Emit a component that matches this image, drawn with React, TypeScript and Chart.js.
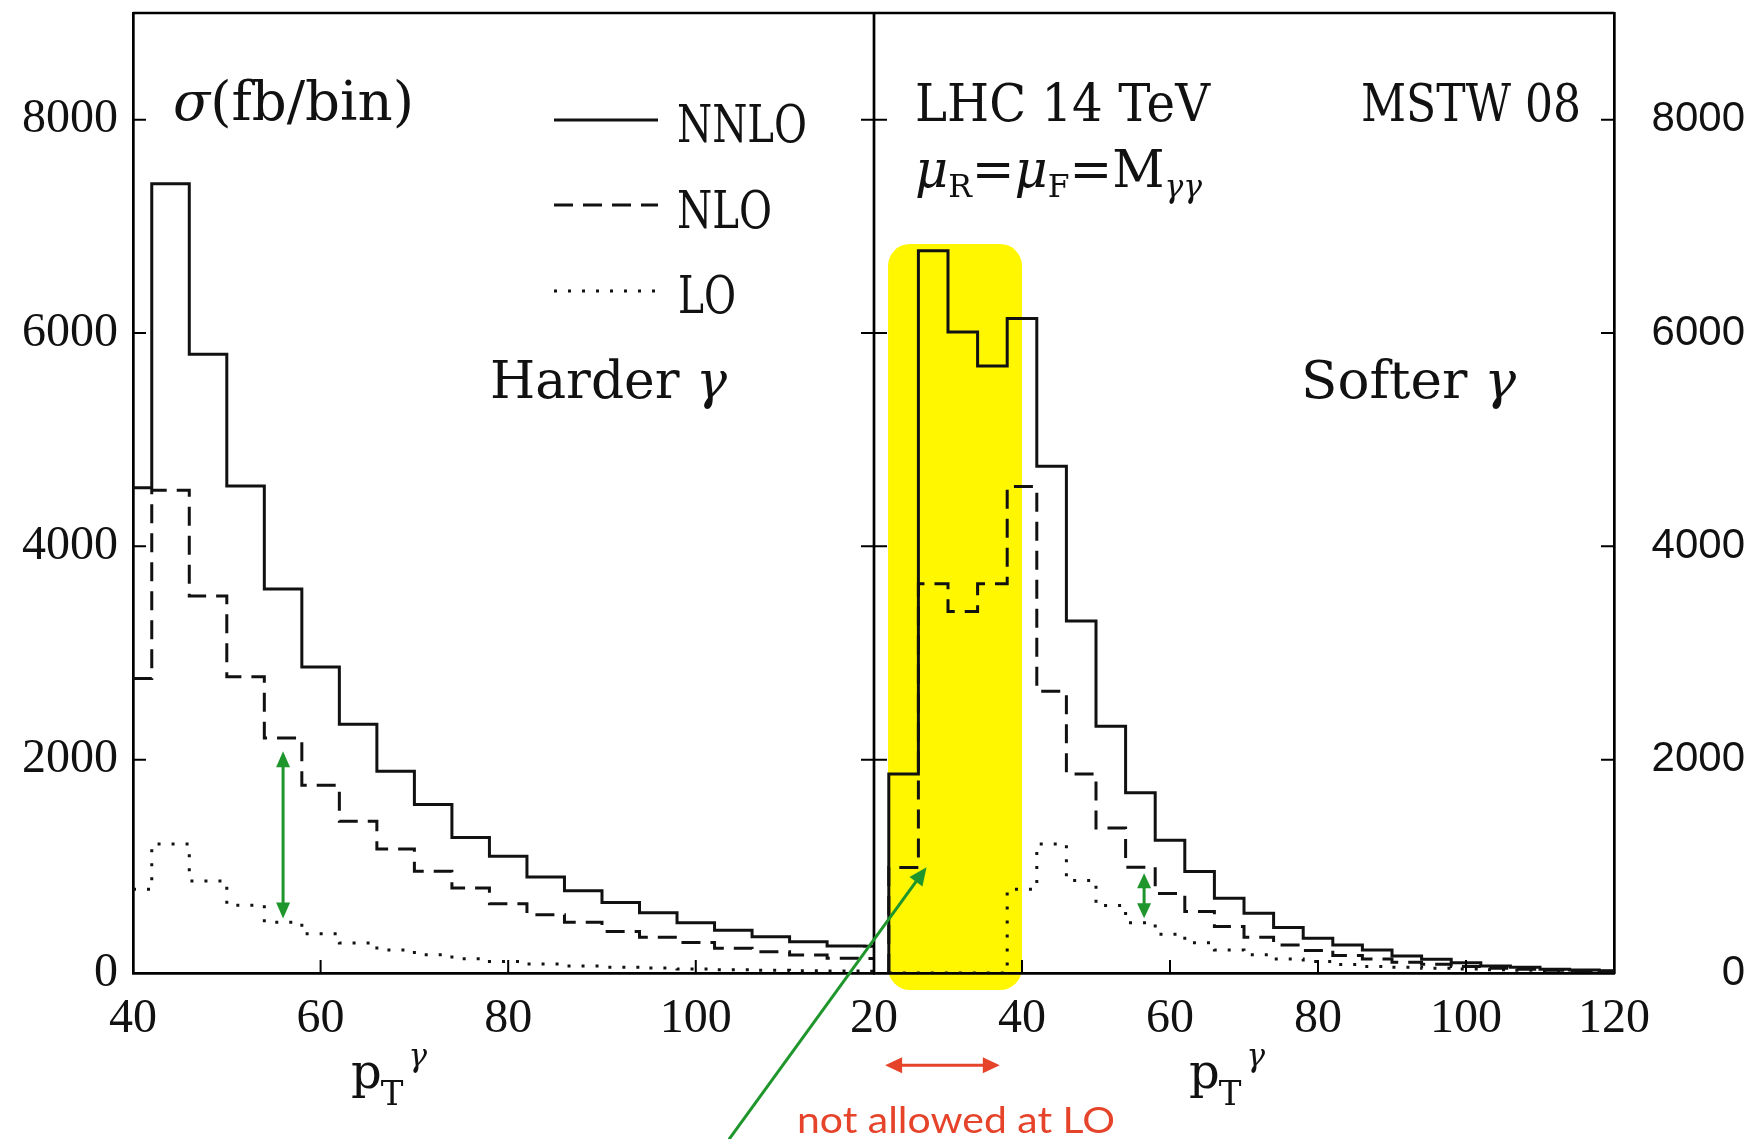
import React, { useEffect, useRef } from 'react';
import { Chart, registerables } from 'chart.js';

Chart.register(...registerables);

const WIDTH = 1754;
const HEIGHT = 1139;

// Bin edges in GeV (4 GeV bins). The harder photon starts in the 38-42 bin, cut at 40.
const harderEdges = [38, 42, 46, 50, 54, 58, 62, 66, 70, 74, 78, 82, 86, 90, 94, 98, 102, 106, 110, 114, 118, 122];
const softerEdges = [22, 26, 30, 34, 38, 42, 46, 50, 54, 58, 62, 66, 70, 74, 78, 82, 86, 90, 94, 98, 102, 106, 110, 114, 118, 122];

// sigma (fb/bin) for the harder photon
const harderNNLO = [4550, 7400, 5800, 4565, 3600, 2868, 2332, 1891, 1580, 1270, 1094, 900, 770, 660, 566, 472, 400, 340, 294, 254, 250];
const harderNLO = [2760, 4525, 3535, 2778, 2203, 1759, 1422, 1163, 953, 797, 650, 547, 475, 390, 335, 285, 232, 200, 169, 138, 135];
const harderLO = [784, 1210, 862, 636, 476, 367, 282, 215, 171, 133, 108, 85, 66, 55, 46, 38, 31, 25, 22, 19, 16];

// sigma (fb/bin) for the softer photon
const softerNNLO = [1866, 6770, 6010, 5690, 6135, 4750, 3300, 2313, 1690, 1245, 952, 701, 561, 426, 326, 263, 216, 160, 128, 97, 66, 53, 34, 28, 22];
const softerNLO = [989, 3650, 3390, 3650, 4560, 2641, 1866, 1359, 992, 745, 576, 435, 335, 263, 210, 163, 131, 100, 81, 60, 44, 34, 25, 19, 16];
const softerLO = [0, 0, 0, 0, 786, 1210, 867, 632, 472, 364, 284, 216, 170, 132, 108, 80, 62, 54, 45, 38, 31, 25, 22, 19, 16];

// Axis ranges and tick spacing
const harderRange = { min: 40, max: 119 };
const softerRange = { min: 20, max: 120 };
const sigmaRange = { min: 0, max: 9000 };
const ptMajor = 20;
const ptMinor = 4;
const sigmaMajor = 2000;
const sigmaMinor = 400;

// Annotations, in data units of the panel they sit in
const harderJump = { x: 56, from: 2080, to: 510 };
const softerJump = { x: 56.5, from: 936, to: 514 };
const pointer = { from: { x: 0.4, y: -1560 }, to: { x: 27.1, y: 992 } };
const forbidden = { from: 21.5, to: 37, y: -864 };
const highlight = { x0: 21.9, x1: 40, y0: -160, y1: 6835 };

const SERIF = '"DejaVu Serif", serif';
const TICK_SERIF = '"Liberation Serif", serif';
const SANS = '"Liberation Sans", Arial, sans-serif';
const HUMANIST = 'Lato, "Open Sans", sans-serif';
const INK = '#111';
const GREEN = '#1f962c';
const RED = '#e6432b';
const YELLOW = '#fff700';

const styles: Record<string, number[]> = {
  NNLO: [],
  NLO: [19, 10],
  LO: [3, 11],
};

type Pt = { x: number; y: number };

function histogram(edges: number[], values: number[], range: { min: number; max: number }, fromZero: boolean): Pt[] {
  const pts: Pt[] = [];
  let last = 0;
  if (fromZero) pts.push({ x: Math.max(edges[0], range.min), y: 0 });
  for (let i = 0; i < values.length; i++) {
    const a = edges[i];
    const b = edges[i + 1];
    if (b <= range.min || a >= range.max) continue;
    pts.push({ x: Math.max(a, range.min), y: values[i] });
    last = i;
  }
  pts.push({ x: Math.min(edges[last + 1], range.max), y: values[last] });
  return pts;
}

function series(label: string, values: number[], edges: number[], range: { min: number; max: number }, xAxisID: string, fromZero: boolean) {
  return {
    label,
    data: histogram(edges, values, range, fromZero),
    xAxisID,
    yAxisID: 'y',
    borderColor: INK,
    borderWidth: 3,
    borderDash: styles[label],
    borderCapStyle: 'butt',
    borderJoinStyle: 'miter',
    stepped: 'before',
    pointRadius: 0,
    fill: false,
    tension: 0,
  };
}

type Run = { t: string; size: number; dy?: number; dx?: number; italic?: boolean; family?: string };

function drawRuns(ctx: CanvasRenderingContext2D, runs: Run[], x: number, baseline: number, width?: number, color = INK) {
  const fontOf = (r: Run) => `${r.italic ? 'italic ' : ''}${r.size}px ${r.family ?? SERIF}`;
  const widths = runs.map((r) => {
    ctx.font = fontOf(r);
    return ctx.measureText(r.t).width;
  });
  const total = widths.reduce((s, w, i) => s + w + (runs[i].dx ?? 0), 0);
  const sx = width ? width / total : 1;
  ctx.save();
  ctx.fillStyle = color;
  ctx.textAlign = 'left';
  ctx.textBaseline = 'alphabetic';
  ctx.translate(x, baseline);
  ctx.scale(sx, 1);
  let cx = 0;
  runs.forEach((r, i) => {
    cx += r.dx ?? 0;
    ctx.font = fontOf(r);
    ctx.fillText(r.t, cx, r.dy ?? 0);
    cx += widths[i];
  });
  ctx.restore();
}

function head(ctx: CanvasRenderingContext2D, tip: Pt, from: Pt, len: number, half: number): Pt {
  const a = Math.atan2(tip.y - from.y, tip.x - from.x);
  const c = Math.cos(a);
  const s = Math.sin(a);
  const bx = tip.x - len * c;
  const by = tip.y - len * s;
  ctx.beginPath();
  ctx.moveTo(tip.x, tip.y);
  ctx.lineTo(bx - half * s, by + half * c);
  ctx.lineTo(bx + half * s, by - half * c);
  ctx.closePath();
  ctx.fill();
  return { x: bx + c, y: by + s };
}

function arrow(ctx: CanvasRenderingContext2D, p0: Pt, p1: Pt, color: string, width: number, len: number, half: number, both: boolean) {
  ctx.save();
  ctx.strokeStyle = color;
  ctx.fillStyle = color;
  ctx.lineWidth = width;
  const e1 = head(ctx, p1, p0, len, half);
  const e0 = both ? head(ctx, p0, p1, len, half) : p0;
  ctx.beginPath();
  ctx.moveTo(e0.x, e0.y);
  ctx.lineTo(e1.x, e1.y);
  ctx.stroke();
  ctx.restore();
}

const decorations = {
  id: 'decorations',
  beforeDraw(chart: any) {
    const { ctx, scales } = chart;
    const xR = scales.xR;
    const y = scales.y;
    const l = xR.getPixelForValue(highlight.x0);
    const r = xR.getPixelForValue(highlight.x1);
    const t = y.getPixelForValue(highlight.y1);
    const b = y.getPixelForValue(highlight.y0);
    const rad = 22;
    ctx.save();
    ctx.fillStyle = YELLOW;
    ctx.beginPath();
    ctx.moveTo(l + rad, t);
    ctx.arcTo(r, t, r, b, rad);
    ctx.arcTo(r, b, l, b, rad);
    ctx.arcTo(l, b, l, t, rad);
    ctx.arcTo(l, t, r, t, rad);
    ctx.closePath();
    ctx.fill();
    ctx.restore();
  },
  afterDraw(chart: any) {
    const { ctx, chartArea: ca, scales } = chart;
    const xL = scales.xL;
    const xR = scales.xR;
    const y = scales.y;
    const divider = xR.left;

    // top frame and the divider between the two panels
    ctx.save();
    ctx.strokeStyle = '#000';
    ctx.lineWidth = 2.7;
    ctx.beginPath();
    ctx.moveTo(ca.left, ca.top);
    ctx.lineTo(ca.right, ca.top);
    ctx.moveTo(divider, ca.top);
    ctx.lineTo(divider, ca.bottom);
    ctx.stroke();

    // inward tick marks
    ctx.lineWidth = 2;
    ctx.beginPath();
    for (const sc of [xL, xR]) {
      for (const tk of sc.ticks) {
        const v = tk.value;
        if (v <= sc.min || v >= sc.max || v % ptMinor !== 0) continue;
        const len = v % ptMajor === 0 ? 13 : 6;
        const px = sc.getPixelForValue(v);
        ctx.moveTo(px, ca.bottom);
        ctx.lineTo(px, ca.bottom - len);
      }
    }
    for (const tk of y.ticks) {
      const v = tk.value;
      if (v <= y.min || v >= y.max || v % sigmaMinor !== 0) continue;
      const len = v % sigmaMajor === 0 ? 13 : 6;
      const py = y.getPixelForValue(v);
      ctx.moveTo(ca.left, py);
      ctx.lineTo(ca.left + len, py);
      ctx.moveTo(ca.right, py);
      ctx.lineTo(ca.right - len, py);
      ctx.moveTo(divider - len, py);
      ctx.lineTo(divider + len, py);
    }
    ctx.stroke();
    ctx.restore();

    // legend samples, styled like the datasets
    const legendY = [120, 205, 291];
    chart.data.datasets.slice(0, 3).forEach((ds: any, i: number) => {
      ctx.save();
      ctx.strokeStyle = ds.borderColor;
      ctx.lineWidth = ds.borderWidth;
      ctx.lineCap = 'butt';
      ctx.setLineDash(ds.borderDash);
      ctx.beginPath();
      ctx.moveTo(554, legendY[i]);
      ctx.lineTo(658, legendY[i]);
      ctx.stroke();
      ctx.restore();
    });
    drawRuns(ctx, [{ t: 'NNLO', size: 52 }], 677, 142, 130);
    drawRuns(ctx, [{ t: 'NLO', size: 52 }], 677, 228, 95);
    drawRuns(ctx, [{ t: 'LO', size: 52 }], 678, 313, 58);

    // panel texts
    drawRuns(ctx, [{ t: 'σ', size: 54, italic: true }, { t: '(fb/bin)', size: 54 }], 173, 120, 241);
    drawRuns(ctx, [{ t: 'Harder ', size: 52 }, { t: 'γ', size: 52, italic: true }], 490, 398, 237);
    drawRuns(ctx, [{ t: 'LHC 14 TeV', size: 52 }], 915, 121, 295);
    drawRuns(ctx, [{ t: 'MSTW 08', size: 52 }], 1361, 121, 220);
    drawRuns(
      ctx,
      [
        { t: 'μ', size: 52, italic: true },
        { t: 'R', size: 32, dy: 10 },
        { t: '=', size: 52 },
        { t: 'μ', size: 52, italic: true },
        { t: 'F', size: 32, dy: 10 },
        { t: '=', size: 52 },
        { t: 'M', size: 52 },
        { t: 'γγ', size: 32, dy: 10, italic: true },
      ],
      915,
      187,
      287,
    );
    drawRuns(ctx, [{ t: 'Softer ', size: 52 }, { t: 'γ', size: 52, italic: true }], 1301, 398, 215);

    // axis titles p_T^gamma
    const ptTitle: Run[] = [
      { t: 'p', size: 48 },
      { t: 'T', size: 34, dy: 17, dx: -1 },
      { t: 'γ', size: 31, dy: -22, dx: 5, italic: true },
    ];
    drawRuns(ctx, ptTitle, 351, 1088);
    drawRuns(ctx, ptTitle, 1189, 1088);

    // green arrows: NLO vs LO gap, and the pointer to the first softer bin
    const px = (sc: any, v: number) => sc.getPixelForValue(v);
    arrow(ctx, { x: px(xL, harderJump.x), y: px(y, harderJump.from) }, { x: px(xL, harderJump.x), y: px(y, harderJump.to) }, GREEN, 3, 16, 7, true);
    arrow(ctx, { x: px(xR, softerJump.x), y: px(y, softerJump.from) }, { x: px(xR, softerJump.x), y: px(y, softerJump.to) }, GREEN, 3, 15, 7, true);
    arrow(
      ctx,
      { x: px(xR, pointer.from.x), y: px(y, pointer.from.y) },
      { x: px(xR, pointer.to.x), y: px(y, pointer.to.y) },
      GREEN,
      3,
      18,
      8,
      false,
    );

    // red range marker below the axis
    arrow(
      ctx,
      { x: px(xR, forbidden.from), y: px(y, forbidden.y) },
      { x: px(xR, forbidden.to), y: px(y, forbidden.y) },
      RED,
      3,
      17,
      8,
      true,
    );
    drawRuns(ctx, [{ t: 'not allowed at LO', size: 37, family: HUMANIST }], 797, 1133, 318, RED);
  },
};

function ptScale(range: { min: number; max: number }, weight: number) {
  return {
    type: 'linear',
    position: 'bottom',
    stack: 'pt',
    stackWeight: weight,
    min: range.min,
    max: range.max,
    grid: { display: false, drawTicks: false },
    border: { display: true, color: '#000', width: 2.7 },
    ticks: {
      stepSize: ptMinor,
      includeBounds: false,
      autoSkip: false,
      maxRotation: 0,
      minRotation: 0,
      padding: 18,
      color: INK,
      font: { family: TICK_SERIF, size: 48 },
      callback: (v: number) => (v % ptMajor === 0 ? String(v) : null),
    },
    afterFit: (s: any) => {
      s.height = HEIGHT - 973;
      s.paddingLeft = 0;
      s.paddingRight = 0;
    },
  };
}

// the right-hand labels are right-aligned at the scale's outer edge
const RIGHT_LABEL_EDGE = 1745;

function sigmaScale(position: 'left' | 'right') {
  const right = position === 'right';
  return {
    type: 'linear',
    position,
    min: sigmaRange.min,
    max: sigmaRange.max,
    grid: { display: false, drawTicks: false },
    border: { display: true, color: '#000', width: 2.7 },
    ticks: {
      stepSize: sigmaMinor,
      includeBounds: false,
      autoSkip: false,
      padding: 15,
      crossAlign: right ? 'far' : 'near',
      color: INK,
      font: right ? { family: SANS, size: 42 } : { family: TICK_SERIF, size: 48 },
      callback: (v: number) => (v % sigmaMajor === 0 ? String(v) : null),
    },
    afterFit: (s: any) => {
      s.width = right ? RIGHT_LABEL_EDGE - 1614 : 133;
      s.paddingTop = 0;
      s.paddingBottom = 0;
    },
  };
}

export default function App() {
  const canvasRef = useRef<HTMLCanvasElement | null>(null);

  useEffect(() => {
    document.body.style.margin = '0';
    const canvas = canvasRef.current;
    if (!canvas) return;
    const chart = new Chart(canvas, {
      type: 'line',
      data: {
        datasets: [
          series('NNLO', harderNNLO, harderEdges, harderRange, 'xL', false),
          series('NLO', harderNLO, harderEdges, harderRange, 'xL', false),
          series('LO', harderLO, harderEdges, harderRange, 'xL', false),
          series('NNLO', softerNNLO, softerEdges, softerRange, 'xR', true),
          series('NLO', softerNLO, softerEdges, softerRange, 'xR', true),
          series('LO', softerLO, softerEdges, softerRange, 'xR', true),
        ] as any,
      },
      options: {
        animation: false,
        responsive: false,
        devicePixelRatio: 1,
        layout: { padding: { top: 13, left: 0, right: WIDTH - RIGHT_LABEL_EDGE, bottom: 0 } },
        plugins: {
          legend: { display: false },
          tooltip: { enabled: false },
        },
        events: [],
        scales: {
          xL: ptScale(harderRange, 741),
          xR: ptScale(softerRange, 740),
          y: sigmaScale('left'),
          yR: sigmaScale('right'),
        } as any,
      },
      plugins: [decorations as any],
    });
    return () => chart.destroy();
  }, []);

  return (
    <div style={{ position: 'absolute', left: 0, top: 0, width: WIDTH, height: HEIGHT, background: '#fff' }}>
      <canvas ref={canvasRef} width={WIDTH} height={HEIGHT} style={{ display: 'block' }} />
    </div>
  );
}
